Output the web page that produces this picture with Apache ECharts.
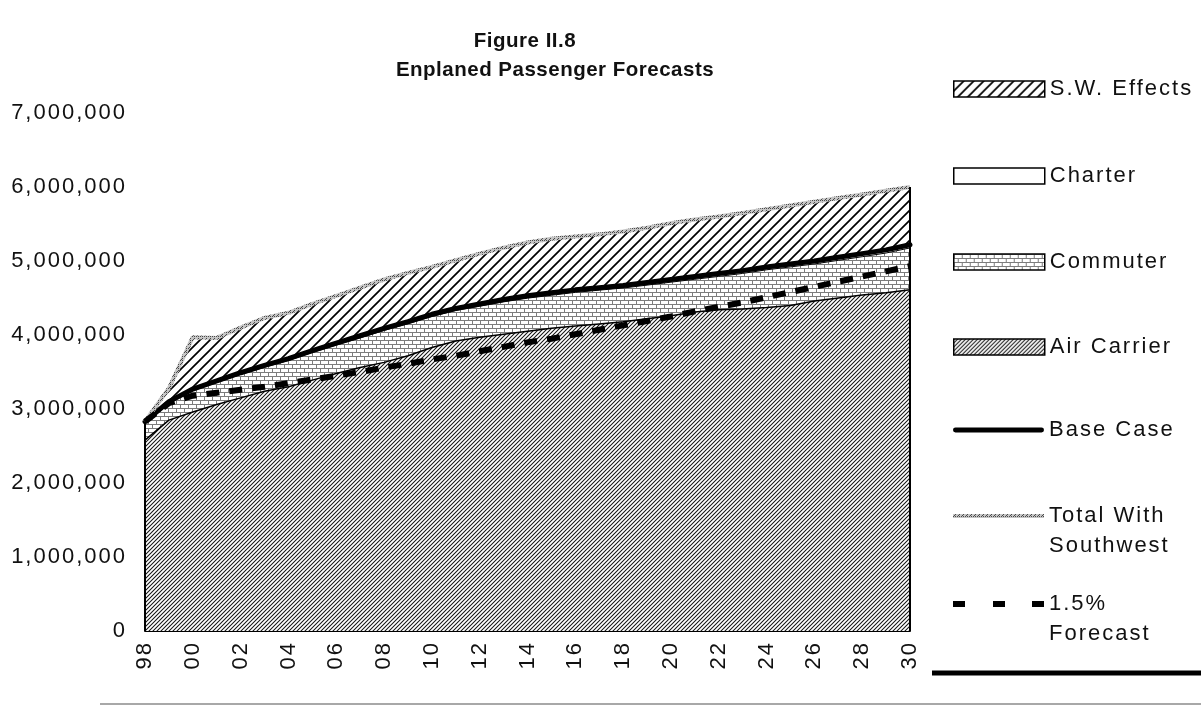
<!DOCTYPE html>
<html>
<head>
<meta charset="utf-8">
<title>Enplaned Passenger Forecasts</title>
<script src="https://cdn.jsdelivr.net/npm/echarts@6/dist/echarts.min.js"></script>
<style>
  html, body { margin: 0; padding: 0; background: #fff; }
  #chart { width: 1201px; height: 706px; }
</style>
</head>
<body>
<div id="chart"></div>
<script>
// Forecast years (two-digit labels, 1998 to 2030)
const years = ['98','99','00','01','02','03','04','05','06','07','08','09','10','11','12','13','14','15',
               '16','17','18','19','20','21','22','23','24','25','26','27','28','29','30'];

// Stacked components of enplanements
const airCarrier = [2580000,2850000,2960000,3060000,3150000,3240000,3300000,3390000,3480000,3560000,3630000,
                    3720000,3830000,3920000,3970000,4010000,4050000,4090000,4120000,4150000,4180000,4220000,
                    4260000,4310000,4340000,4350000,4370000,4400000,4460000,4500000,4540000,4570000,4610000];
const commuter = [230000,229000,288000,297000,316000,325000,355000,374000,383000,402000,432000,
                  431000,420000,410000,419000,438000,448000,447000,456000,456000,455000,454000,
                  454000,443000,452000,482000,511000,520000,500000,509000,518000,538000,567000];
const charter = [20000,21000,22000,23000,24000,25000,25000,26000,27000,28000,28000,
                 29000,30000,30000,31000,32000,32000,33000,34000,34000,35000,36000,
                 36000,37000,38000,38000,39000,40000,40000,41000,42000,42000,43000];
const swEffects = [0,180000,700000,580000,610000,640000,620000,630000,640000,650000,660000,
                   660000,640000,650000,680000,700000,720000,730000,720000,720000,730000,740000,
                   760000,770000,770000,780000,780000,790000,800000,800000,800000,800000,780000];

// Forecast lines
const baseCase = [2830000,3100000,3270000,3380000,3490000,3590000,3680000,3790000,3890000,3990000,4090000,
                  4180000,4280000,4360000,4420000,4480000,4530000,4570000,4610000,4640000,4670000,4710000,
                  4750000,4790000,4830000,4870000,4920000,4960000,5000000,5050000,5100000,5150000,5220000];
const totalWithSouthwest = [2830000,3280000,3970000,3960000,4100000,4230000,4300000,4420000,4530000,4640000,4750000,
                            4840000,4920000,5010000,5100000,5180000,5250000,5300000,5330000,5360000,5400000,5450000,
                            5510000,5560000,5600000,5650000,5700000,5750000,5800000,5850000,5900000,5950000,6000000];
const forecast15 = [2830000,3080000,3180000,3220000,3260000,3300000,3350000,3400000,3450000,3500000,3560000,
                    3610000,3670000,3720000,3780000,3840000,3900000,3950000,4010000,4070000,4130000,4190000,
                    4250000,4320000,4380000,4440000,4510000,4580000,4650000,4720000,4790000,4860000,4930000];

// Value axis ticks
const yTicks = [0,1000000,2000000,3000000,4000000,5000000,6000000,7000000];

const FONT = '"Liberation Sans", Arial, Helvetica, sans-serif';

// Wider tracking for all chart text (regular weight a little looser than bold)
const nativeFillText = CanvasRenderingContext2D.prototype.fillText;
CanvasRenderingContext2D.prototype.fillText = function (text, x, y, maxWidth) {
  if ('letterSpacing' in this) {
    this.letterSpacing = /bold/.test(this.font) ? '0.5px' : '2px';
  }
  return maxWidth === undefined
    ? nativeFillText.call(this, text, x, y)
    : nativeFillText.call(this, text, x, y, maxWidth);
};

// Small repeating tiles used as fills
function tile(w, h, draw) {
  const c = document.createElement('canvas');
  c.width = w; c.height = h;
  const g = c.getContext('2d');
  g.fillStyle = '#fff';
  g.fillRect(0, 0, w, h);
  draw(g, w, h);
  return { image: c, repeat: 'repeat' };
}
function diagonal(g, s) {
  g.beginPath();
  g.moveTo(0, s); g.lineTo(s, 0);
  g.moveTo(-2, 2); g.lineTo(2, -2);
  g.moveTo(s - 2, s + 2); g.lineTo(s + 2, s - 2);
  g.stroke();
}
const fineHatch = tile(4, 4, (g) => { g.strokeStyle = '#141414'; g.lineWidth = 1.05; diagonal(g, 4); });
const wideHatch = tile(10, 10, (g) => { g.strokeStyle = '#000'; g.lineWidth = 1.7; diagonal(g, 10); });
const brick = tile(8, 8, (g) => {
  g.strokeStyle = '#7c7c7c'; g.lineWidth = 1;
  g.beginPath();
  g.moveTo(0, 0.5); g.lineTo(8, 0.5);
  g.moveTo(0, 4.5); g.lineTo(8, 4.5);
  g.moveTo(0.5, 0); g.lineTo(0.5, 4);
  g.moveTo(4.5, 4); g.lineTo(4.5, 8);
  g.stroke();
});
const checker = tile(4, 4, (g) => {
  g.fillStyle = '#c4c4c4'; g.fillRect(0, 0, 4, 4);
  g.fillStyle = '#4a4a4a';
  g.fillRect(0, 0, 1, 1); g.fillRect(2, 2, 1, 1); g.fillRect(2, 0, 1, 1); g.fillRect(1, 3, 1, 1);
});

// Legend glyphs for the line series (zero-area subpaths keep the 91x16 box)
const BOX = 'M0 0L91 0L91 0ZM0 16L91 16L91 16Z';
const iconSolid = 'path://' + BOX + 'M2 5.5H89A2.5 2.5 0 0 1 89 10.5H2A2.5 2.5 0 0 1 2 5.5Z';
const iconChecker = 'path://' + BOX + 'M0 6H91V10H0Z';
const iconDashed = 'path://' + BOX + 'M0 5H12V11H0ZM40 5H52V11H40ZM79 5H91V11H79Z';

// One legend block per entry; two-line names keep the glyph beside their first line
// (a leading blank line puts the first text line at the block's middle)
function legendItem(center, item, twoLines) {
  const lineH = twoLines ? 30 : 26;
  return {
    orient: 'vertical',
    left: 953,
    top: twoLines ? center - 1.5 * lineH : center - 13,
    padding: 0,
    itemWidth: 91,
    itemHeight: 16,
    selectedMode: false,
    formatter: twoLines ? (n) => '\n' + n.replace(/ (\S+)$/, '\n$1') : undefined,
    textStyle: { fontFamily: FONT, fontSize: 22, color: '#111', lineHeight: lineH },
    data: [item]
  };
}

const chart = echarts.init(document.getElementById('chart'), null, { renderer: 'canvas' });

const last = years.length - 1;

chart.setOption({
  animation: false,
  backgroundColor: '#fff',
  title: [
    {
      text: 'Figure II.8', left: 525, top: 29, textAlign: 'center', padding: 0,
      textStyle: { fontFamily: FONT, fontWeight: 'bold', fontSize: 20.5, color: '#111', lineHeight: 24 }
    },
    {
      text: 'Enplaned Passenger Forecasts', left: 555, top: 58, textAlign: 'center', padding: 0,
      textStyle: { fontFamily: FONT, fontWeight: 'bold', fontSize: 20.5, color: '#111', lineHeight: 24 }
    }
  ],
  legend: [
    legendItem(89, { name: 'S.W. Effects', icon: 'rect', itemStyle: { color: wideHatch, borderColor: '#000', borderWidth: 1.5 } }),
    legendItem(176, { name: 'Charter', icon: 'rect', itemStyle: { color: '#fff', borderColor: '#000', borderWidth: 1.5 } }),
    legendItem(262, { name: 'Commuter', icon: 'rect', itemStyle: { color: brick, borderColor: '#000', borderWidth: 1.5 } }),
    legendItem(347, { name: 'Air Carrier', icon: 'rect', itemStyle: { color: fineHatch, borderColor: '#000', borderWidth: 1.5 } }),
    legendItem(430, { name: 'Base Case', icon: iconSolid, itemStyle: { color: '#000', borderWidth: 0 } }),
    legendItem(516, { name: 'Total With Southwest', icon: iconChecker, itemStyle: { color: checker, borderWidth: 0 } }, true),
    legendItem(604, { name: '1.5% Forecast', icon: iconDashed, itemStyle: { color: '#000', borderWidth: 0 } }, true)
  ],
  grid: { left: 145, right: 291, top: 113, bottom: 75, containLabel: false },
  xAxis: {
    type: 'category',
    data: years,
    boundaryGap: false,
    axisLine: { lineStyle: { color: '#000', width: 2 } },
    axisTick: { show: false },
    splitLine: { show: false },
    axisLabel: { interval: 1, rotate: 90, margin: 10, color: '#111', fontFamily: FONT, fontSize: 22 }
  },
  yAxis: {
    type: 'value',
    min: yTicks[0],
    max: yTicks[yTicks.length - 1],
    interval: yTicks[1] - yTicks[0],
    axisLine: { show: false },
    axisTick: { show: false },
    splitLine: { show: false },
    axisLabel: {
      margin: 18, color: '#111', fontFamily: FONT, fontSize: 22,
      formatter: (v) => v.toLocaleString('en-US')
    }
  },
  series: [
    {
      name: 'Air Carrier', type: 'line', stack: 'enplaned', data: airCarrier,
      symbol: 'none', lineStyle: { color: '#000', width: 1.5 },
      areaStyle: { color: fineHatch, opacity: 1 }
    },
    {
      name: 'Commuter', type: 'line', stack: 'enplaned', data: commuter,
      symbol: 'none', lineStyle: { color: '#000', width: 1 },
      areaStyle: { color: brick, opacity: 1 }
    },
    {
      name: 'Charter', type: 'line', stack: 'enplaned', data: charter,
      symbol: 'none', lineStyle: { color: '#000', width: 1 },
      areaStyle: { color: '#fff', opacity: 1 }
    },
    {
      name: 'S.W. Effects', type: 'line', stack: 'enplaned', data: swEffects,
      symbol: 'none', lineStyle: { width: 0 },
      areaStyle: { color: wideHatch, opacity: 1 }
    },
    {
      name: 'Base Case', type: 'line', data: baseCase,
      symbol: 'none', lineStyle: { color: '#000', width: 5, cap: 'round', join: 'round' }
    },
    {
      name: 'Total With Southwest', type: 'line', data: totalWithSouthwest,
      symbol: 'none', lineStyle: { color: checker, width: 4 },
      // outer edges of the stacked area
      markLine: {
        silent: true, symbol: 'none', label: { show: false },
        lineStyle: { color: '#000', width: 2, type: 'solid' },
        data: [
          [{ coord: [years[0], 0] }, { coord: [years[0], totalWithSouthwest[0]] }],
          [{ coord: [years[last], 0] }, { coord: [years[last], totalWithSouthwest[last]] }]
        ]
      }
    },
    {
      name: '1.5% Forecast', type: 'line', data: forecast15,
      symbol: 'none', lineStyle: { color: '#000', width: 6, type: [13, 10] }
    }
  ],
  graphic: [
    // page rules below the figure
    { type: 'line', shape: { x1: 932, y1: 673, x2: 1201, y2: 673 }, style: { stroke: '#000', lineWidth: 5 }, silent: true },
    { type: 'line', shape: { x1: 100, y1: 704, x2: 1201, y2: 704 }, style: { stroke: '#a8a8a8', lineWidth: 2 }, silent: true }
  ]
});
</script>
</body>
</html>
